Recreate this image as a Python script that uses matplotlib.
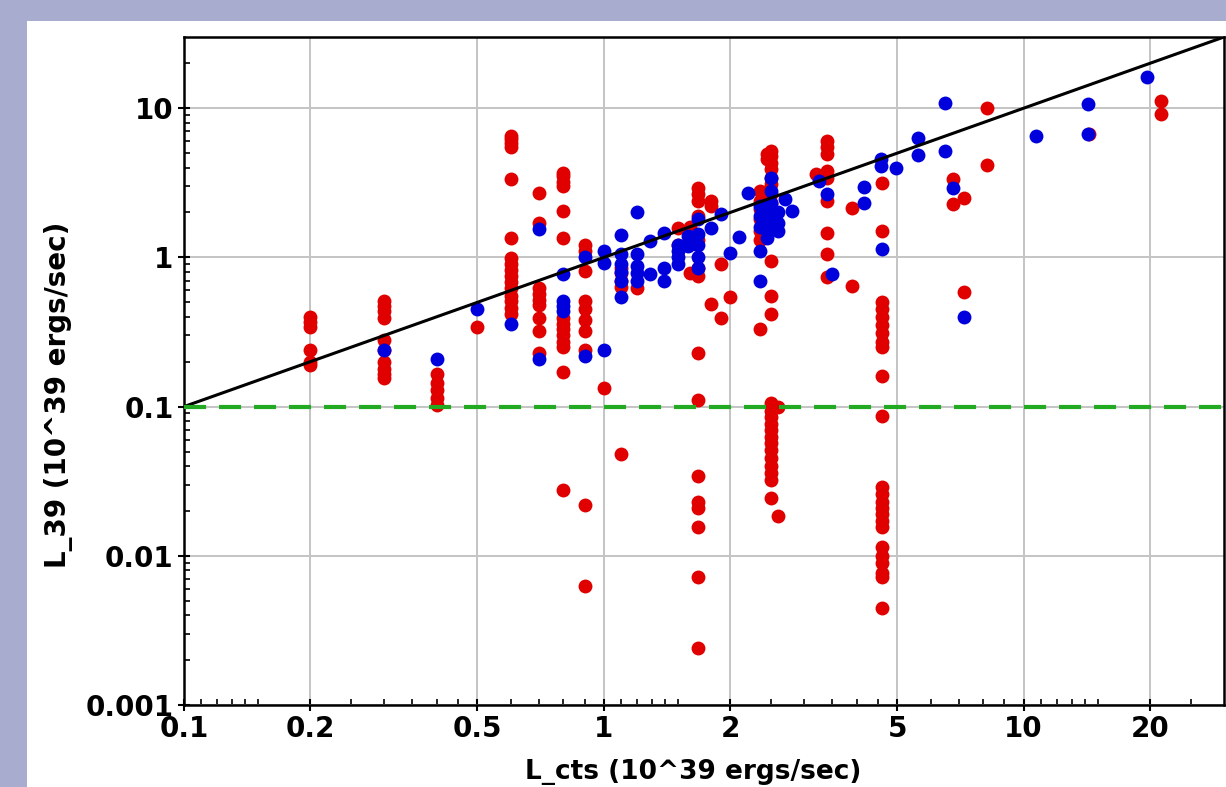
import numpy as np
import matplotlib
matplotlib.use("Agg")
import matplotlib.pyplot as plt
from matplotlib.patches import Rectangle
from matplotlib.ticker import FixedLocator, NullFormatter

# red points, grouped by their x column: (x, [y values])
red_cols = [
    (0.2, [0.40, 0.37, 0.34, 0.24, 0.20, 0.19]),
    (0.3, [0.51, 0.47, 0.44, 0.39, 0.28, 0.24, 0.20, 0.18, 0.165, 0.155]),
    (0.4, [0.165, 0.145, 0.13, 0.115, 0.103]),
    (0.5, [0.34]),
    (0.6, [6.5, 6.2, 5.8, 5.5, 3.35, 1.35, 0.99, 0.9, 0.82, 0.75, 0.68, 0.62,
           0.55, 0.51, 0.46, 0.42]),
    (0.7, [2.7, 1.7, 0.62, 0.57, 0.52, 0.48, 0.39, 0.32, 0.23]),
    (0.8, [3.7, 3.5, 3.2, 3.0, 2.05, 1.35, 0.39, 0.36, 0.33, 0.30, 0.27, 0.25,
           0.17, 0.0274]),
    (0.9, [1.22, 1.1, 0.81, 0.51, 0.45, 0.38, 0.32, 0.24, 0.022, 0.0063]),
    (1.0, [0.134]),
    (1.1, [0.85, 0.78, 0.7, 0.63, 0.048]),
    (1.2, [0.62]),
    (1.5, [1.57, 1.22]),
    (1.6, [0.79, 1.6]),
    (1.68, [2.9, 2.65, 2.4, 1.9, 1.3, 0.85, 0.75, 0.23, 0.11, 0.034, 0.0228,
            0.021, 0.0156, 0.0072, 0.0024]),
    (1.8, [2.4, 2.2, 0.49]),
    (1.9, [0.9, 0.39]),
    (2.0, [0.54]),
    (2.35, [2.78, 2.4, 2.1, 1.8, 1.5, 1.3, 0.33]),
    (2.45, [4.9, 4.6]),
    (2.5, [5.2, 4.8, 4.3, 3.9, 3.4, 3.1, 2.65, 2.3, 2.0, 1.8, 1.6, 0.95, 0.55,
           0.42, 0.105, 0.094, 0.085, 0.077, 0.07, 0.063, 0.057, 0.051, 0.045,
           0.04, 0.036, 0.032, 0.0243]),
    (2.6, [0.1, 0.0184]),
    (3.2, [3.6]),
    (3.4, [6.0, 5.5, 4.9, 3.8, 3.4, 2.4, 1.46, 1.05, 0.74]),
    (3.9, [2.14, 0.64]),
    (4.6, [3.15, 1.5, 0.5, 0.45, 0.4, 0.35, 0.31, 0.27, 0.25, 0.16, 0.087,
           0.0288, 0.026, 0.023, 0.021, 0.019, 0.017, 0.0157, 0.0114, 0.010,
           0.0089, 0.0077, 0.0072, 0.0045]),
    (6.8, [3.35, 2.27]),
    (7.2, [2.5, 0.59]),
    (8.2, [10.0, 4.15]),
    (14.3, [6.7]),
    (21.2, [11.1, 9.1]),
]

blue_cols = [
    (0.3, [0.24]),
    (0.4, [0.21]),
    (0.5, [0.45]),
    (0.6, [0.36]),
    (0.7, [1.55, 0.21]),
    (0.8, [0.77, 0.51, 0.47, 0.44]),
    (0.9, [1.0, 0.22]),
    (1.0, [1.1, 0.92, 0.24]),
    (1.1, [1.41, 1.05, 0.9, 0.8, 0.7, 0.54]),
    (1.2, [2.0, 1.05, 0.87, 0.78, 0.7]),
    (1.29, [1.29, 0.77]),
    (1.39, [1.46, 0.85, 0.7]),
    (1.5, [1.22, 1.1, 1.0, 0.9]),
    (1.59, [1.39, 1.2]),
    (1.68, [1.8, 1.43, 1.22, 1.0, 0.85]),
    (1.8, [1.57]),
    (1.9, [1.95]),
    (2.0, [1.07]),
    (2.1, [1.37]),
    (2.2, [2.7]),
    (2.35, [2.2, 1.9, 1.6, 1.1, 0.7]),
    (2.45, [2.0, 1.7, 1.5, 1.35]),
    (2.5, [3.4, 2.78, 2.3, 1.9, 1.6]),
    (2.6, [2.0, 1.7, 1.5]),
    (2.7, [2.46]),
    (2.8, [2.04]),
    (3.25, [3.25]),
    (3.4, [2.65]),
    (3.5, [0.77]),
    (4.17, [2.96, 2.3]),
    (4.56, [4.1, 4.55]),
    (4.6, [1.14]),
    (4.96, [3.97]),
    (5.6, [6.3, 4.85]),
    (6.5, [10.8, 5.15]),
    (6.8, [2.9]),
    (7.2, [0.40]),
    (10.7, [6.5]),
    (14.2, [10.6, 6.7]),
    (19.7, [16.1]),
]

x_ticks = [0.1, 0.2, 0.5, 1, 2, 5, 10, 20]
x_tick_labels = ["0.1", "0.2", "0.5", "1", "2", "5", "10", "20"]
y_ticks = [0.001, 0.01, 0.1, 1, 10]
y_tick_labels = ["0.001", "0.01", "0.1", "1", "10"]
limit_line = 0.1   # green dashed level
one_to_one = [0.1, 30]


def expand(cols):
    xs, ys = [], []
    for x, yy in cols:
        xs += [x] * len(yy)
        ys += yy
    return np.array(xs), np.array(ys)


rx, ry = expand(red_cols)
bx, by = expand(blue_cols)

fig = plt.figure(figsize=(12.26, 7.87), dpi=100, facecolor="#a8acce")
fig.patches.append(Rectangle((27 / 1226, 0), 1, 1 - 21 / 787,
                             transform=fig.transFigure, facecolor="white",
                             edgecolor="none", zorder=-10))

ax = fig.add_axes([184 / 1226, 1 - 705 / 787, 1040 / 1226, 668 / 787])
ax.set_zorder(5)
ax.set_xscale("log")
ax.set_yscale("log")
ax.set_xlim(0.1, 30)
ax.set_ylim(0.001, 30)

ax.grid(True, which="major", color="#c4c4c4", linewidth=1.4, zorder=0)
ax.set_axisbelow(True)

ax.plot(rx, ry, "o", color="#e00000", ms=10, mec="none", zorder=2)
ax.plot(bx, by, "o", color="#0000dd", ms=10, mec="none", zorder=3)
ax.plot(one_to_one, one_to_one, color="black", lw=2.2, zorder=4)
ax.axhline(limit_line, color="#22aa22", lw=3.0, dashes=(5.3, 3.1), zorder=4)

# log axis minor ticks in the odd java style
mx = []
for d in [0.1, 1, 10]:
    mx += [m * d for m in [1.1, 1.2, 1.3, 1.4, 1.5, 2.5, 3, 3.5, 4, 4.5, 6, 7, 8, 9]]
mx = [v for v in mx if v < 30]
my = [m * 10.0 ** e for e in range(-3, 2) for m in range(2, 10)]
my = [v for v in my if v < 30]

ax.xaxis.set_major_locator(FixedLocator(x_ticks))
ax.xaxis.set_minor_locator(FixedLocator(mx))
ax.yaxis.set_major_locator(FixedLocator(y_ticks))
ax.yaxis.set_minor_locator(FixedLocator(my))
ax.set_xticklabels(x_tick_labels)
ax.set_yticklabels(y_tick_labels)
ax.xaxis.set_minor_formatter(NullFormatter())
ax.yaxis.set_minor_formatter(NullFormatter())

ax.tick_params(which="major", direction="inout", length=9, width=1.5,
               labelsize=20, pad=3)
ax.tick_params(which="minor", direction="in", length=4, width=1.2)
ax.tick_params(top=False, right=False, which="both")
for lab in ax.get_xticklabels() + ax.get_yticklabels():
    lab.set_fontweight("bold")

for s in ax.spines.values():
    s.set_linewidth(1.8)

ax.set_xlabel("L_cts (10^39 ergs/sec)", fontsize=19, fontweight="bold")
ax.xaxis.set_label_coords(0.49, -0.081, transform=ax.transAxes)
ax.xaxis.label.set_va("top")
ax.set_ylabel("L_39 (10^39 ergs/sec)", fontsize=20, fontweight="bold")
ax.yaxis.set_label_coords(-0.121, 0.464)
ax.yaxis.label.set_va("center")

fig.savefig("out.png", dpi=100, facecolor=fig.get_facecolor())
